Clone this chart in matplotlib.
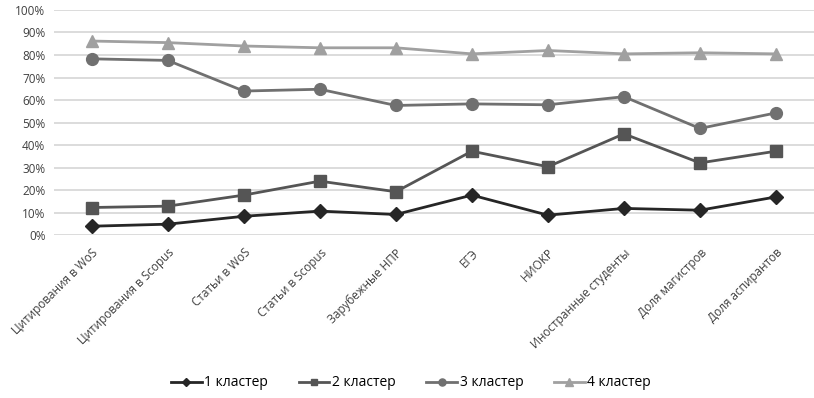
import matplotlib

matplotlib.use("Agg")

import matplotlib.pyplot as plt  # noqa: E402
from matplotlib.ticker import PercentFormatter  # noqa: E402

plt.rcParams["font.family"] = ["Open Sans", "DejaVu Sans"]

categories = [
    "Цитирования в WoS",
    "Цитирования в Scopus",
    "Статьи в WoS",
    "Статьи в Scopus",
    "Зарубежные НПР",
    "ЕГЭ",
    "НИОКР",
    "Иностранные студенты",
    "Доля магистров",
    "Доля аспирантов",
]

cluster_1 = [4.0, 4.9, 8.4, 10.7, 9.2, 17.8, 8.9, 11.9, 11.1, 17.0]
cluster_2 = [12.3, 12.9, 17.8, 24.0, 19.3, 37.3, 30.4, 45.0, 32.1, 37.3]
cluster_3 = [78.3, 77.6, 64.0, 64.8, 57.6, 58.3, 57.9, 61.5, 47.4, 54.3]
cluster_4 = [86.2, 85.5, 84.0, 83.2, 83.2, 80.5, 82.0, 80.5, 81.0, 80.5]

series = [
    ("1 кластер", cluster_1, "#262626", "D", 7),
    ("2 кластер", cluster_2, "#555555", "s", 8),
    ("3 кластер", cluster_3, "#707070", "o", 8.5),
    ("4 кластер", cluster_4, "#a0a0a0", "^", 9),
]

fig = plt.figure(figsize=(8.14, 3.98), dpi=100)
ax = fig.add_axes([0.066, 0.409, 0.934, 0.566])

x = range(len(categories))
for label, values, color, marker, size in series:
    ax.plot(
        x,
        [v / 100 for v in values],
        color=color,
        marker=marker,
        markersize=size,
        linewidth=2.0,
        label=label,
    )

ax.set_ylim(0, 1)
ax.set_xlim(-0.5, len(categories) - 0.5)
ax.set_yticks([i / 10 for i in range(11)])
ax.yaxis.set_major_formatter(PercentFormatter(1.0, decimals=0))
ax.grid(axis="y", color="#d9d9d9", linewidth=1.3)
ax.set_axisbelow(True)
for spine in ax.spines.values():
    spine.set_visible(False)
ax.tick_params(axis="both", length=0, labelsize=8.5, colors="#404040")
ax.tick_params(axis="y", pad=6)

ax.set_xticks(list(x))
ax.set_xticklabels(categories, rotation=45, ha="right", rotation_mode="anchor")
ax.tick_params(axis="x", pad=8)

fig.legend(
    loc="center",
    bbox_to_anchor=(0.505, 0.038),
    ncol=4,
    frameon=False,
    fontsize=10,
    handlelength=2.2,
    columnspacing=2.2,
    handletextpad=0.2,
    markerscale=0.6,
)

fig.savefig("out.png", dpi=100)
